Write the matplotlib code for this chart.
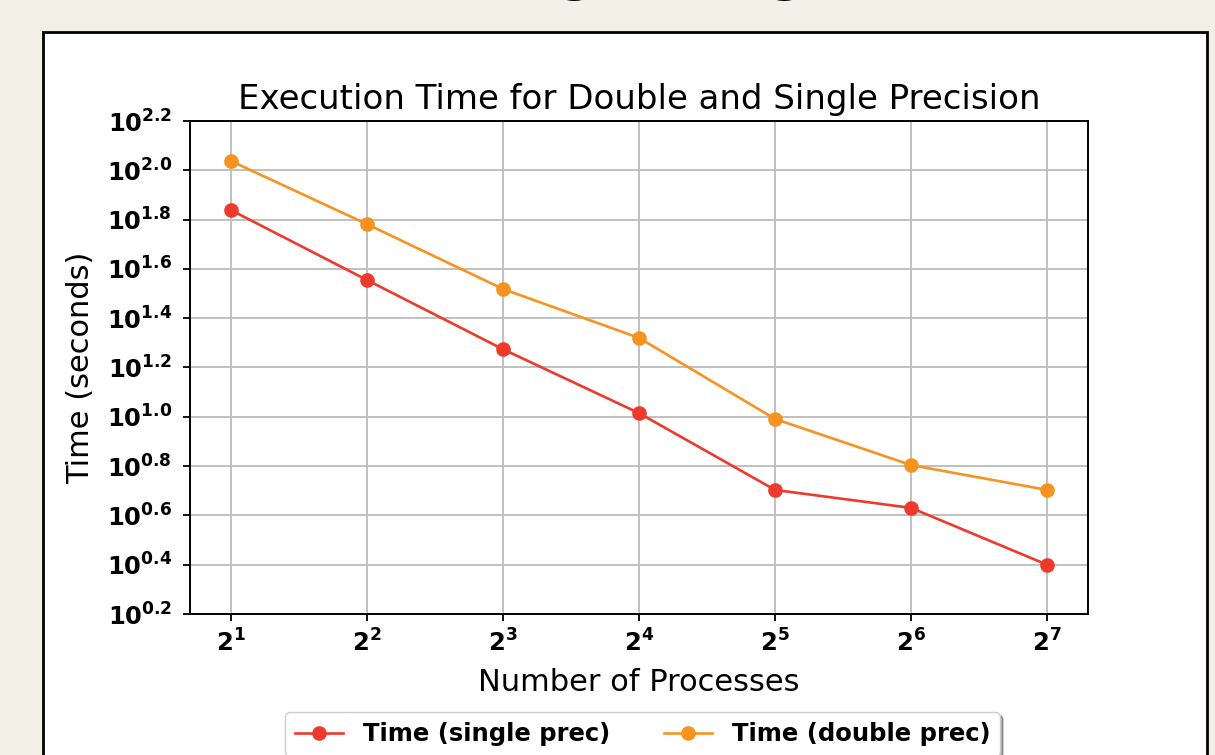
import numpy as np
import matplotlib
matplotlib.use("Agg")
import matplotlib.pyplot as plt
from matplotlib.patches import Rectangle
from matplotlib.ticker import FixedLocator, NullLocator

# data
processes = [2, 4, 8, 16, 32, 64, 128]
time_single = [69.0, 35.9, 18.8, 10.35, 5.05, 4.27, 2.51]
time_double = [109.1, 60.5, 33.0, 20.9, 9.8, 6.37, 5.05]
y_exps = [0.2, 0.4, 0.6, 0.8, 1.0, 1.2, 1.4, 1.6, 1.8, 2.0, 2.2]

W, H = 1215, 755
fig = plt.figure(figsize=(W / 100, H / 100), dpi=100, facecolor="#f3f0e8")

# white page box behind the chart
fig.patches.append(Rectangle((43 / W, -0.1), (1207 - 43) / W, 1.1 - 32 / H,
                             transform=fig.transFigure, facecolor="white",
                             edgecolor="black", linewidth=2, zorder=-5))
# descenders of the page heading that is cut off at the top
for gx in [577, 787]:
    fig.text(gx / W, 1 + 10 / H, "g", fontsize=38, fontweight="bold",
             ha="center", va="baseline", color="black")

ax = fig.add_axes([190 / W, 1 - 614 / H, (1088 - 190) / W, (614 - 121) / H])
ax.plot(processes, time_single, color="#ee3a2c", marker="o", markersize=9.5,
        linewidth=1.9, label="Time (single prec)")
ax.plot(processes, time_double, color="#f7931e", marker="o", markersize=9.5,
        linewidth=1.9, label="Time (double prec)")

ax.set_xscale("log", base=2)
ax.set_yscale("log")
ax.set_ylim(10 ** 0.2, 10 ** 2.2)

ax.xaxis.set_major_locator(FixedLocator(processes))
ax.xaxis.set_minor_locator(NullLocator())
ax.set_xticklabels([r"$\mathbf{2^{%d}}$" % int(np.log2(p)) for p in processes])
ax.yaxis.set_major_locator(FixedLocator([10 ** e for e in y_exps]))
ax.yaxis.set_minor_locator(NullLocator())
ax.set_yticklabels([r"$\mathbf{10^{%.1f}}$" % e for e in y_exps])
ax.tick_params(labelsize=17.5, width=1.3, length=5)
ax.tick_params(axis="y", pad=8)
ax.tick_params(axis="x", pad=6)

ax.grid(True, color="#c0c0c0", linewidth=1.4)
for s in ax.spines.values():
    s.set_linewidth(1.4)

ax.set_title("Execution Time for Double and Single Precision", fontsize=24.5,
             pad=9)
ax.set_xlabel("Number of Processes", fontsize=22, labelpad=8)
ax.set_ylabel("Time (seconds)", fontsize=22, labelpad=8)

ax.legend(loc="upper center", bbox_to_anchor=(0.504, -0.175), ncol=2,
          prop={"weight": "bold", "size": 17.5}, frameon=True, fancybox=True,
          shadow=True, columnspacing=2.2)

fig.savefig("out.png", dpi=100, facecolor=fig.get_facecolor())
